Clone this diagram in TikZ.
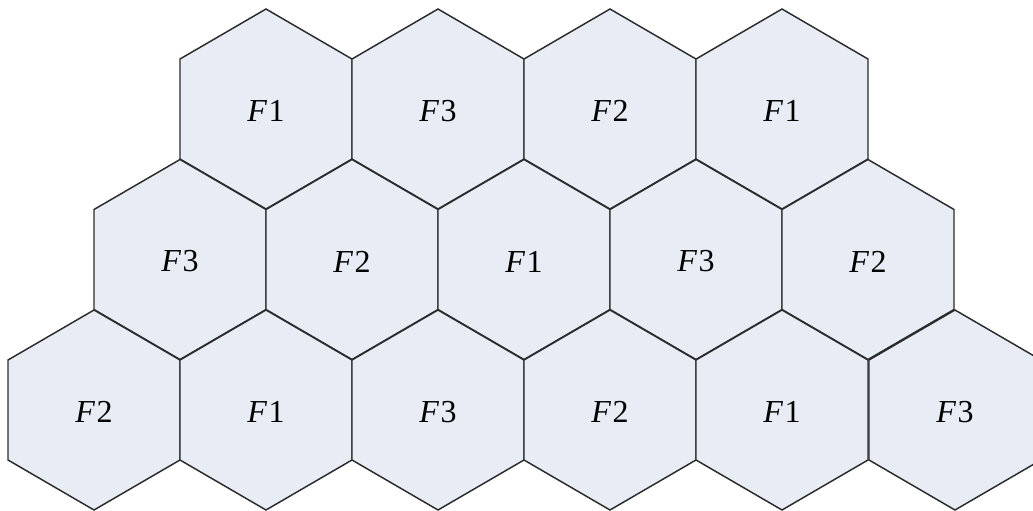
\documentclass[tikz,border=0pt]{standalone}
\usepackage{fontspec}
\setmainfont{Liberation Serif}
\usetikzlibrary{positioning}
\definecolor{cellfill}{HTML}{E7ECF5}
\definecolor{celledge}{HTML}{2B2B2B}
\begin{document}
\begin{tikzpicture}[x=0.75pt, y=-0.75pt,
  cell/.style={fill=cellfill, draw=celledge, line width=1.1pt, line join=miter},
  lab/.style={font=\fontsize{24}{24}\selectfont, inner sep=1pt}]
\useasboundingbox (0,0) rectangle (1033,511);
\def\hw{86}\def\hh{100}\def\hq{50}
% three rows of cells, centres in px
\foreach \cx/\cy/\lb [count=\i] in {
  266/109/1, 438/109/3, 610/109/2, 782/109/1,
  180/259.5/3, 352/259.5/2, 524/259.5/1, 696/259.5/3, 868/259.5/2,
  94/410/2, 266/410/1, 438/410/3, 610/410/2, 782/410/1, 955/410/3} {
  \draw[cell] (\cx,\cy-\hh) -- (\cx+\hw,\cy-\hq) -- (\cx+\hw,\cy+\hq) -- (\cx,\cy+\hh)
    -- (\cx-\hw,\cy+\hq) -- (\cx-\hw,\cy-\hq) -- cycle;
  \node[lab] (cell\i) at (\cx,\cy+2) {\textit{F}\kern1pt\lb};
}
\end{tikzpicture}
\end{document}
